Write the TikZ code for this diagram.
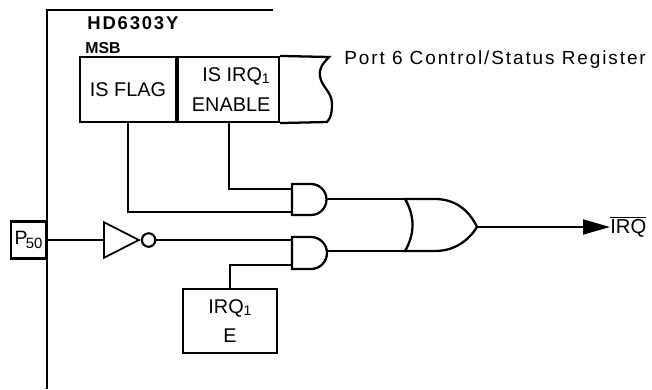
\documentclass[tikz,border=0pt]{standalone}
\usepackage{fontspec}
\setmainfont{Liberation Sans}
\newfontfamily\widefont[LetterSpace=10]{Liberation Sans}
\usetikzlibrary{shapes.geometric, arrows.meta, positioning}

\begin{document}
\begin{tikzpicture}[
    % Register and timer boxes
    regbox/.style={
        rectangle,
        draw=black,
        line width=1.2pt,
        inner sep=0pt,
        align=center,
        font=\fontsize{11.3}{17}\selectfont
    },
    % Gate outlines
    gate/.style={
        line width=1.3pt,
        black
    },
    % Wire style
    wire/.style={
        line width=1.1pt,
        black
    },
    label/.style={
        font=\fontsize{10.8}{12}\selectfont\widefont,
        anchor=west,
        inner sep=0pt
    }
]
\useasboundingbox (0, 0) rectangle (13.04, 7.78);

% === Chip outline ===
\draw[line width=1.1pt] (5.46, 7.58) -- (0.94, 7.58) -- (0.94, 0);

\node[label, font=\fontsize{10.5}{12}\selectfont\widefont\bfseries] (chip) at (1.74, 7.32) {HD6303Y};
\node[label, font=\fontsize{9}{11}\selectfont\bfseries] (msb) at (1.7, 6.82) {MSB};
\node[label] (port) at (6.88, 6.58) {Port 6 Control/Status Register};

% === Control/status register ===
\node[regbox, minimum width=1.92cm, minimum height=1.3cm] (flag) at (2.56, 5.99) {IS FLAG};
\node[regbox, minimum width=2.02cm, minimum height=1.3cm, right=0pt of flag] (enable) {\hspace*{0.3cm}IS IRQ{\fontsize{8}{8}\selectfont\raisebox{-0.3ex}{1}}\\\hspace*{0.1cm}ENABLE};
\coordinate (regtop) at (6.58, 6.64);
\coordinate (regbot) at (6.54, 5.34);
\draw[gate] (enable.north east) -- (regtop)
    .. controls (6.45, 6.5) and (6.38, 6.42) .. (6.4, 6.26)
    .. controls (6.42, 6.05) and (6.64, 5.95) .. (6.64, 5.7)
    .. controls (6.64, 5.5) and (6.6, 5.4) .. (regbot) -- (enable.south east);

% === Port pin and inverter ===
\node[regbox, minimum width=0.7cm, minimum height=0.74cm, font=\fontsize{11}{12}\selectfont] (p50) at (0.57, 2.98) {P\kern-0.08em\raisebox{-0.45ex}{\fontsize{8.5}{9}\selectfont 50}};
\node[isosceles triangle, isosceles triangle apex angle=54, draw=black, line width=1pt, inner sep=0pt, minimum height=0.7cm, anchor=west] (inv) at (2.06, 2.98) {};
\node[circle, draw=black, line width=1.2pt, inner sep=0pt, minimum size=0.27cm, anchor=west] (bubble) at (inv.apex) {};

% === Gates ===
\coordinate (and1in1) at (5.84, 4.0);
\coordinate (and1in2) at (5.84, 3.54);
\coordinate (and1out) at (6.53, 3.8);
\draw[gate] (5.84, 4.1) -- (6.22, 4.1) arc[start angle=90, end angle=-90, radius=0.31] -- (5.84, 3.48) -- cycle;

\coordinate (and2in1) at (5.84, 2.98);
\coordinate (and2in2) at (5.84, 2.48);
\coordinate (and2out) at (6.54, 2.76);
\draw[gate] (5.84, 3.04) -- (6.22, 3.04) arc[start angle=90, end angle=-90, radius=0.32] -- (5.84, 2.4) -- cycle;

\coordinate (orin1) at (8.1, 3.8);
\coordinate (orin2) at (8.1, 2.76);
\coordinate (orout) at (9.54, 3.24);
\draw[gate] (orin1) -- (8.7, 3.8) .. controls (9.1, 3.8) and (9.38, 3.58) .. (orout)
    .. controls (9.38, 2.98) and (9.1, 2.76) .. (8.7, 2.76) -- (orin2)
    .. controls (8.3, 3.1) and (8.3, 3.46) .. cycle;

% === Timer box ===
\node[regbox, minimum width=1.88cm, minimum height=1.28cm] (irqbox) at (4.6, 1.36) {IRQ{\fontsize{8}{8}\selectfont\raisebox{-0.3ex}{1}}\\E};

% === Output ===
\node[anchor=west, inner sep=0pt, font=\fontsize{11.5}{12}\selectfont] (irq) at (12.2, 3.24) {$\overline{\mbox{IRQ}}$};

% === Wires ===
\draw[wire] (p50.east) -- (inv.west);
\draw[wire] (bubble.east) -- (and2in1);
\draw[wire] (flag.south) |- (and1in2);
\draw[wire] (enable.south) |- (and1in1);
\draw[wire] (irqbox.north) |- (and2in2);
\draw[wire] (and1out) -- (orin1);
\draw[wire] (and2out) -- (orin2);
\draw[wire, -{Triangle[length=0.54cm, width=0.3cm]}] (orout) -- (irq.west);

\end{tikzpicture}
\end{document}
